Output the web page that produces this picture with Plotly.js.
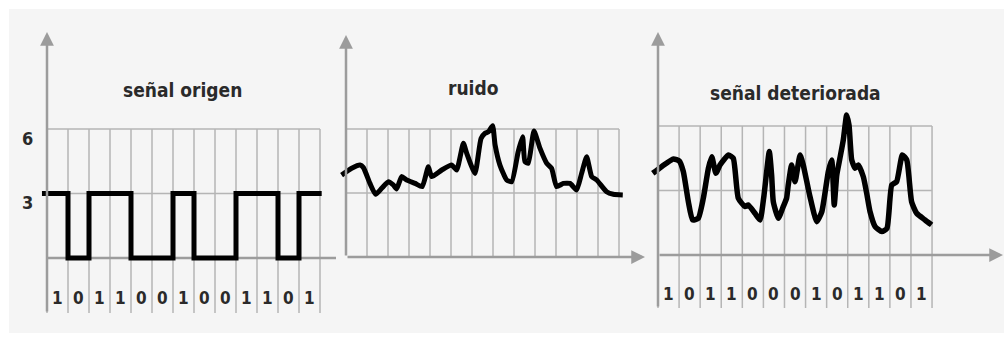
<!DOCTYPE html>
<html><head><meta charset="utf-8">
<script src="https://cdn.plot.ly/plotly-3.0.1.min.js"></script>
<style>html,body{margin:0;padding:0;background:#fff;}#chart{width:1004px;height:337px;}</style>
</head><body><div id="chart"></div>
<script>
// ---- data ----
const bitsOrigen = [1,0,1,1,0,0,1,0,0,1,1,0,1];
const bitsDeteriorada = [1,0,1,1,0,0,0,1,0,1,1,0,1];
const levelHigh = 3;
const levelTicks = [6, 3];
const titles = ['señal origen', 'ruido', 'señal deteriorada'];

const noiseX = [-0.21,0.27,0.67,0.83,1.14,1.41,1.7,2.02,2.25,2.41,2.65,2.89,3.29,3.63,3.92,4.08,4.56,5.03,5.27,5.59,5.75,6.14,6.43,6.62,6.78,6.98,7.1,7.33,7.65,7.89,8.2,8.41,8.52,8.68,8.95,9.24,9.56,9.79,10.03,10.35,10.67,10.98,11.22,11.46,11.7,11.94,12.41,12.73,13.18];
const noiseY = [3.84,4.16,4.31,4.19,3.45,2.94,3.22,3.53,3.38,3.19,3.77,3.61,3.45,3.3,4.23,3.77,4.08,4.31,4.08,5.33,4.86,3.92,5.56,5.8,5.87,6.16,5.25,4.31,3.61,3.53,4.94,5.64,4.47,4.39,5.91,5.09,4.39,4.16,3.3,3.45,3.45,3.14,3.92,4.7,3.77,3.61,3.06,2.94,2.91];

const detX = [-0.25,0.17,0.73,1.01,1.2,1.44,1.64,1.91,2.15,2.39,2.55,2.75,2.94,3.34,3.57,3.81,4.13,4.28,4.6,4.84,5.03,5.28,5.39,5.47,5.71,5.94,6.1,6.18,6.34,6.5,6.74,6.89,7.21,7.53,7.77,8.08,8.24,8.36,8.48,8.63,8.79,8.95,9.06,9.19,9.35,9.5,9.74,9.9,10.06,10.3,10.62,10.86,11.09,11.32,11.59,11.8,12.03,12.27,12.67,12.98];
const detY = [3.8,4.11,4.47,4.37,3.88,2.48,1.63,1.71,2.64,4.03,4.57,3.8,4.19,4.65,4.5,2.64,2.25,2.33,1.94,1.63,2.79,4.81,3.72,2.48,1.71,2.25,2.64,3.26,4.19,3.41,4.65,4.19,2.71,1.55,2.01,3.88,4.42,2.33,3.72,4.5,5.35,6.51,6.05,4.42,4.03,4.19,3.64,2.87,2.01,1.32,1.09,1.24,3.26,3.41,4.65,4.42,2.48,1.94,1.63,1.4];

// ---- geometry (pixels) ----
const W = 1004, H = 337;
const panels = [
  {x0:47,  cell:21.0,  y0:258, unit:21.5,  L:10,  R:340,  T:10, B:333, gridBottom:313, yTip:32, xEnd:336,  xArrow:false, firstGrid:0, titleX:182, titleY:90, labelY:298, tickLabels:true,  bits:bitsOrigen},
  {x0:346, cell:21.0,  y0:257, unit:21.33, L:340, R:650,  T:10, B:333, gridBottom:null, yTip:35, xEnd:645, xArrow:true,  firstGrid:1, titleX:473, titleY:88, labelY:null, tickLabels:false, bits:null},
  {x0:658, cell:21.08, y0:255, unit:21.5,  L:650, R:1004, T:10, B:333, gridBottom:308, yTip:32, xEnd:1003, xArrow:true,  firstGrid:0, titleX:795, titleY:93, labelY:294, tickLabels:false, bits:bitsDeteriorada}
];

const gridColor = '#b5b5b5';
const axisColor = '#9c9c9c';
const textColor = '#2a2a2a';
const fontFam = '"DejaVu Sans Condensed", "DejaVu Sans", sans-serif';

const layout = {
  width: W, height: H,
  margin: {l:0, r:0, t:0, b:0, pad:0},
  paper_bgcolor: '#ffffff',
  plot_bgcolor: 'rgba(0,0,0,0)',
  showlegend: false,
  shapes: [{type:'rect', xref:'paper', yref:'paper', x0:9/W, x1:1, y0:1-333/H, y1:1-9/H, fillcolor:'#f5f5f5', line:{width:0}, layer:'below'}],
  annotations: []
};

const traces = [];

panels.forEach((p, k) => {
  const sx = k === 0 ? '' : String(k+1);
  const xr = 'x' + sx, yr = 'y' + sx;
  const u = px => (px - p.x0) / p.cell;
  const v = py => (p.y0 - py) / p.unit;
  layout['xaxis' + sx] = {domain:[p.L/W, p.R/W], range:[u(p.L), u(p.R)], visible:false, fixedrange:true, anchor:yr};
  layout['yaxis' + sx] = {domain:[1-p.B/H, 1-p.T/H], range:[v(p.B), v(p.T)], visible:false, fixedrange:true, anchor:xr};

  const nCells = bitsOrigen.length;
  const topLevel = levelTicks[0];
  const gb = p.gridBottom === null ? 0 : v(p.gridBottom);
  for (let i = p.firstGrid; i <= nCells; i++) {
    layout.shapes.push({type:'line', xref:xr, yref:yr, x0:i, x1:i, y0:gb, y1:topLevel, line:{color:gridColor, width:1.5}, layer:'below'});
  }
  levelTicks.forEach(l => {
    layout.shapes.push({type:'line', xref:xr, yref:yr, x0:0, x1:nCells, y0:l, y1:l, line:{color:gridColor, width:1.5}, layer:'below'});
  });
  if (p.xArrow) {
    layout.annotations.push({xref:xr, yref:yr, axref:xr, ayref:yr, x:u(p.xEnd), y:0, ax:0, ay:0, text:'', showarrow:true, arrowhead:2, arrowsize:1.1, arrowwidth:2.5, arrowcolor:axisColor});
  } else {
    layout.shapes.push({type:'line', xref:xr, yref:yr, x0:0, x1:u(p.xEnd), y0:0, y1:0, line:{color:axisColor, width:2.5}, layer:'below'});
  }
  layout.annotations.push({xref:xr, yref:yr, axref:xr, ayref:yr, x:0, y:v(p.yTip), ax:0, ay:gb, text:'', showarrow:true, arrowhead:2, arrowsize:1.1, arrowwidth:2.5, arrowcolor:axisColor});

  layout.annotations.push({xref:xr, yref:yr, x:u(p.titleX), y:v(p.titleY), text:'<b>'+titles[k]+'</b>', showarrow:false, xanchor:'center', yanchor:'middle', font:{family:fontFam, size:19, color:textColor}});

  if (p.bits) {
    p.bits.forEach((b, i) => {
      layout.annotations.push({xref:xr, yref:yr, x:i+0.5, y:v(p.labelY), text:'<b>'+b+'</b>', showarrow:false, xanchor:'center', yanchor:'middle', font:{family:fontFam, size:17, color:textColor}});
    });
  }
  if (p.tickLabels) {
    levelTicks.forEach(l => {
      layout.annotations.push({xref:xr, yref:yr, x:u(27), y:l, yshift:-9, text:'<b>'+l+'</b>', showarrow:false, xanchor:'center', yanchor:'middle', font:{family:fontFam, size:18, color:textColor}});
    });
  }
});

const sqX = [-0.24], sqY = [bitsOrigen[0]*levelHigh];
bitsOrigen.forEach((b, i) => { sqX.push(i); sqY.push(b*levelHigh); });
sqX.push(bitsOrigen.length + 0.08); sqY.push(bitsOrigen[bitsOrigen.length-1]*levelHigh);

traces.push({x:sqX, y:sqY, xaxis:'x', yaxis:'y', type:'scatter', mode:'lines', line:{color:'#000', width:5, shape:'hv'}, hoverinfo:'skip'});
traces.push({x:noiseX, y:noiseY, xaxis:'x2', yaxis:'y2', type:'scatter', mode:'lines', line:{color:'#000', width:5, shape:'spline', smoothing:0.5}, hoverinfo:'skip'});
traces.push({x:detX, y:detY, xaxis:'x3', yaxis:'y3', type:'scatter', mode:'lines', line:{color:'#000', width:5.5, shape:'spline', smoothing:0.5}, hoverinfo:'skip'});

Plotly.newPlot('chart', traces, layout, {staticPlot:true, displayModeBar:false});
</script>
</body></html>
